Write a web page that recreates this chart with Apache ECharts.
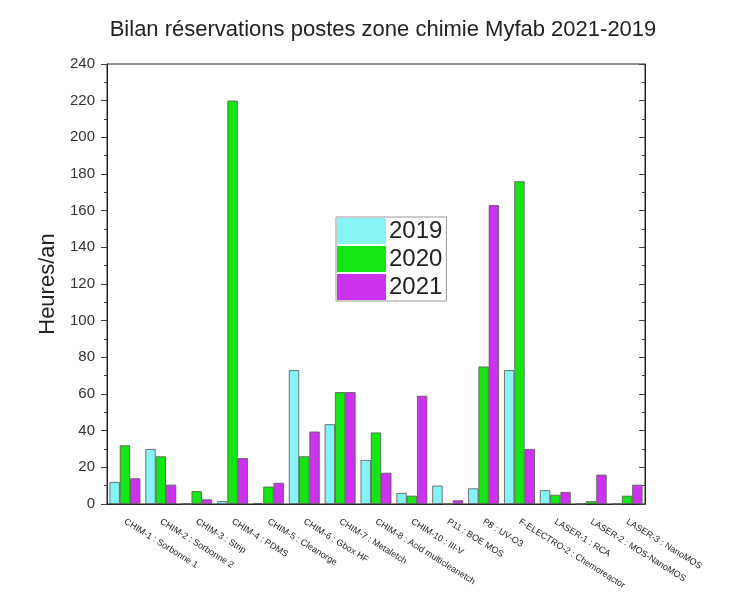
<!DOCTYPE html>
<html>
<head>
<meta charset="utf-8">
<script src="https://cdn.jsdelivr.net/npm/echarts@6/dist/echarts.min.js"></script>
<style>
  html, body { margin: 0; padding: 0; background: #fff; }
</style>
</head>
<body>
<div id="chart" style="width:735px;height:598px;"></div>
<script>
// categories (postes)
var postes = [
    'CHIM-1 : Sorbonne 1', 'CHIM-2 : Sorbonne 2', 'CHIM-3 : Strip', 'CHIM-4 : PDMS',
    'CHIM-5 : Cleanorge', 'CHIM-6 : Gbox HF', 'CHIM-7 : Metaletch', 'CHIM-8 : Acid multicleanetch',
    'CHIM-10 : III-V', 'P11 : BOE MOS', 'P8 : UV-O3', 'F-ELECTRO-2 : Chemoreactor',
    'LASER-1 : RCA', 'LASER-2 : MOS-NanoMOS', 'LASER-3 : NanoMOS'
];
// heures/an par annee
var h2019 = [12, 30, 0, 1.5, 0.5, 73, 43.5, 24, 6, 10, 8.5, 73, 7.5, 0, 0];
var h2020 = [32, 26, 7, 220, 9.5, 26, 61, 39, 4.5, 0, 75, 176, 5, 1.5, 4.5];
var h2021 = [14, 10.5, 2.5, 25, 11.5, 39.5, 61, 17, 59, 2, 163, 30, 6.5, 16, 10.5];

var myChart = echarts.init(document.getElementById('chart'));

function barSerie(name, data, color) {
    return {
        name: name,
        type: 'bar',
        data: data,
        barGap: '0%',
        barCategoryGap: '14%',
        itemStyle: { color: color, borderColor: '#555', borderWidth: 0.8 }
    };
}

myChart.setOption({
    textStyle: { fontFamily: 'Liberation Sans, Arial, sans-serif' },
    title: {
        text: 'Bilan réservations postes zone chimie Myfab 2021-2019',
        left: 378,
        textAlign: 'center',
        top: 14,
        textStyle: { fontSize: 22, fontWeight: 'normal', color: '#222' }
    },
    legend: {
        orient: 'vertical',
        left: 336,
        top: 217,
        padding: [1, 4, 1, 1],
        itemGap: 2,
        itemWidth: 49,
        itemHeight: 26,
        icon: 'rect',
        borderColor: '#999',
        borderWidth: 1,
        textStyle: { fontSize: 24, color: '#222', padding: [0, 0, 0, -2] },
        itemStyle: { borderWidth: 0 },
        data: ['2019', '2020', '2021']
    },
    grid: {
        left: 107, right: 90, top: 64, bottom: 94,
        show: true, borderColor: '#222', borderWidth: 1
    },
    xAxis: {
        type: 'category',
        data: postes,
        axisLine: { lineStyle: { color: '#222' } },
        axisTick: { alignWithLabel: true, length: 7, lineStyle: { color: '#333' } },
        axisLabel: {
            rotate: -32,
            interval: 0,
            fontSize: 9,
            color: '#222',
            margin: 17
        }
    },
    yAxis: [{
        type: 'value',
        min: 0, max: 240, interval: 20,
        name: 'Heures/an',
        nameLocation: 'middle',
        nameGap: 47,
        nameTextStyle: { fontSize: 22, color: '#222' },
        axisLine: { show: true, lineStyle: { color: '#222' } },
        axisTick: { show: true, length: 6, lineStyle: { color: '#444' } },
        minorTick: { show: true, splitNumber: 2, length: 3, lineStyle: { color: '#444' } },
        splitLine: { show: false },
        axisLabel: { fontSize: 15, color: '#333', margin: 12 }
    }, {
        type: 'value',
        position: 'right',
        min: 0, max: 240, interval: 20,
        axisLine: { show: true, lineStyle: { color: '#222' } },
        axisTick: { show: true, inside: true, length: 6, lineStyle: { color: '#444' } },
        minorTick: { show: true, splitNumber: 2, length: 3, lineStyle: { color: '#444' } },
        splitLine: { show: false },
        axisLabel: { show: false }
    }],
    series: [
        barSerie('2019', h2019, '#86F3F7'),
        barSerie('2020', h2020, '#14E614'),
        barSerie('2021', h2021, '#CC33EE')
    ]
});
</script>
</body>
</html>
